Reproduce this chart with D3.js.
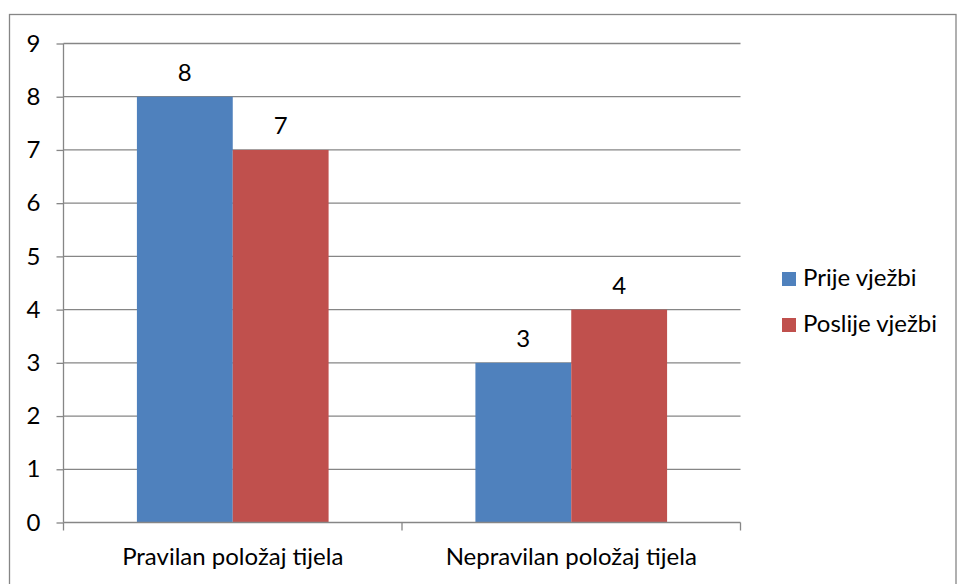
<!DOCTYPE html>
<html><head><meta charset="utf-8">
<script src="https://cdn.jsdelivr.net/npm/d3@7"></script>
<style>body{margin:0;background:#fff}svg{display:block}text{font-family:Lato,"Open Sans",sans-serif;fill:#000}</style>
</head><body><svg id="c" width="957" height="584"></svg>
<script>
const categories = ["Pravilan položaj tijela", "Nepravilan položaj tijela"];
const seriesNames = ["Prije vježbi", "Poslije vježbi"];
const prije = [8, 3];
const poslije = [7, 4];
const yTicks = [0,1,2,3,4,5,6,7,8,9];
const colors = ["#4F81BD", "#C0504D"];

(function(){
const svg = d3.select("#c");
const W = 957, H = 584;
const pl = 63.5, pr = 740.5, pt = 43.5, pb = 522.5;
const FS = 24, FF = 'Lato,"Open Sans",sans-serif';

svg.append("rect").attr("x",9.5).attr("y",14.5).attr("width",W-10.5).attr("height",H).attr("fill","#fff").attr("stroke","#868686").attr("stroke-width",1.3);

const y = d3.scaleLinear().domain([0,9]).range([pb, pt]);
const x0 = d3.scaleBand().domain(categories).range([pl, pr]).padding(0);
const x1 = d3.scaleBand().domain(seriesNames).range([0, x0.bandwidth()]).paddingInner(0).paddingOuter(0.766);

const data = categories.map((c,i)=>({cat:c, vals:[prije[i], poslije[i]]}));

svg.append("g").selectAll("line").data(yTicks.filter(d=>d>0)).join("line")
  .attr("x1",pl).attr("x2",pr).attr("y1",d=>y(d)).attr("y2",d=>y(d))
  .attr("stroke","#868686").attr("stroke-width",1.3);

const g = svg.append("g").selectAll("g").data(data).join("g").attr("transform",d=>`translate(${x0(d.cat)},0)`);
g.selectAll("rect").data(d=>d.vals.map((v,i)=>({s:seriesNames[i],v,i}))).join("rect")
  .attr("x",d=>x1(d.s)).attr("width",x1.bandwidth()).attr("y",d=>y(d.v)).attr("height",d=>y(0)-y(d.v))
  .attr("fill",d=>colors[d.i]);
g.selectAll("text").data(d=>d.vals.map((v,i)=>({s:seriesNames[i],v,i}))).join("text")
  .attr("x",d=>x1(d.s)+x1.bandwidth()/2).attr("y",d=>y(d.v)-16).attr("text-anchor","middle")
  .attr("font-size",FS).text(d=>d.v);

const ya = svg.append("g").attr("transform",`translate(${pl},0)`)
  .call(d3.axisLeft(y).tickValues(yTicks).tickSize(7).tickPadding(16).tickFormat(d3.format("d")));
ya.attr("font-size",FS).attr("font-family",FF);
ya.select(".domain").attr("stroke","#868686").attr("stroke-width",1.3).attr("d",`M0,${pt}V${pb}`);
ya.selectAll(".tick line").attr("stroke","#868686").attr("stroke-width",1.3);
ya.selectAll(".tick text").attr("font-size",FS).attr("fill","#000");

const xa = svg.append("g").attr("transform",`translate(0,${pb})`)
  .call(d3.axisBottom(x0).tickSize(0).tickPadding(25));
xa.attr("font-size",FS).attr("font-family",FF);
xa.select(".domain").attr("stroke","#868686").attr("stroke-width",1.3).attr("d",`M${pl},0H${pr}`);
xa.selectAll(".tick text").attr("font-size",FS).attr("fill","#000");
svg.append("g").selectAll("line").data([pl, x0(categories[1]), pr]).join("line")
  .attr("x1",d=>d).attr("x2",d=>d).attr("y1",pb).attr("y2",pb+8)
  .attr("stroke","#868686").attr("stroke-width",1.3);

const lg = svg.append("g").selectAll("g").data(seriesNames).join("g")
  .attr("transform",(d,i)=>`translate(782,${272+i*46})`);
lg.append("rect").attr("width",14).attr("height",14).attr("fill",(d,i)=>colors[i]);
lg.append("text").attr("x",21).attr("y",14).attr("font-size",FS).text(d=>d);
})();
</script></body></html>
